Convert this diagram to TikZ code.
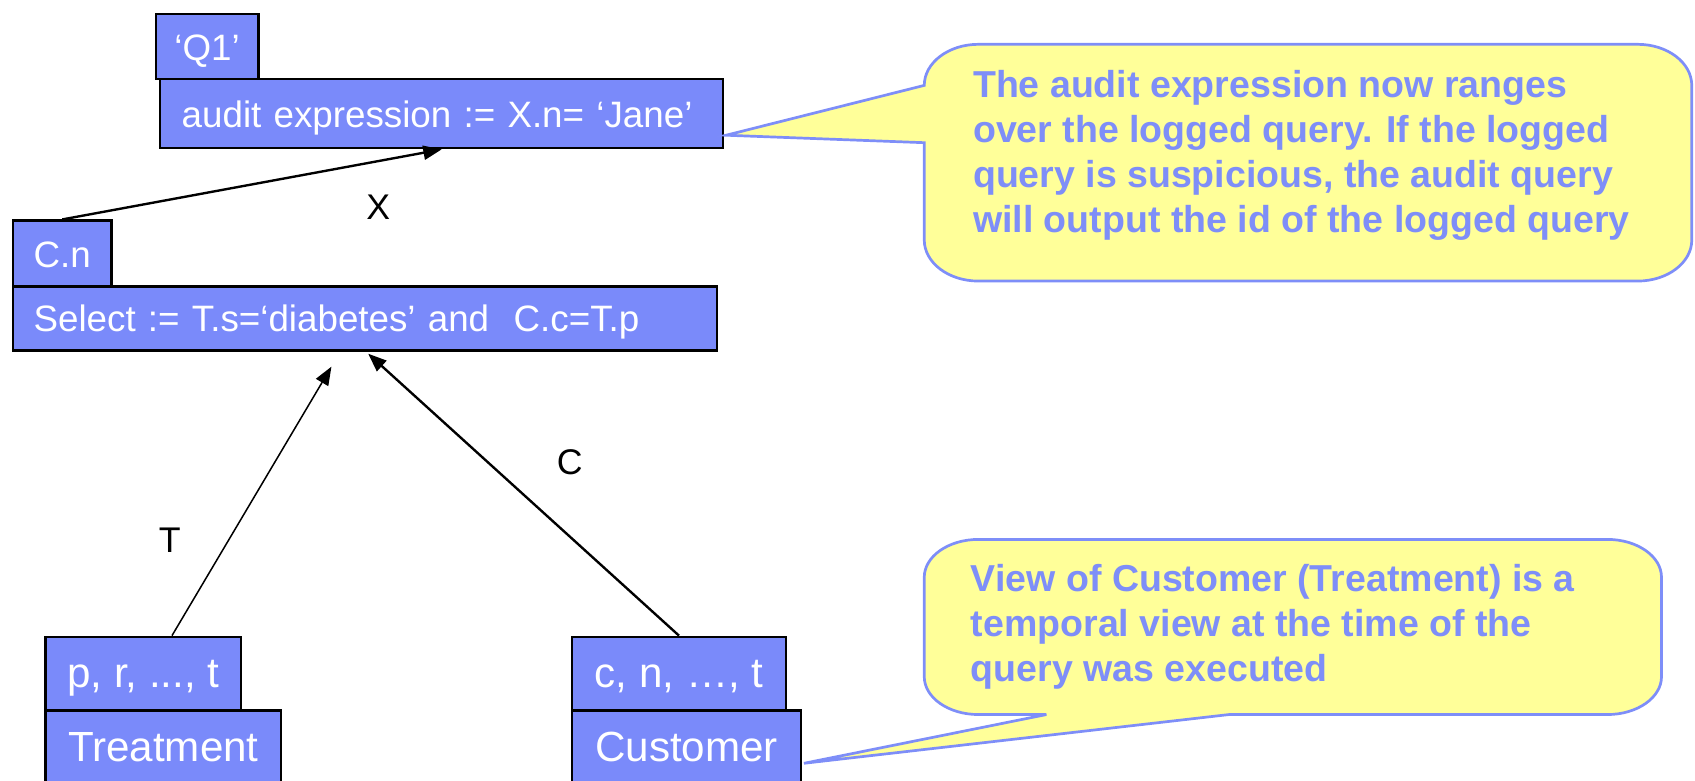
\documentclass[tikz,border=0pt]{standalone}
\usepackage{fontspec}
\setmainfont{Liberation Sans}
\usetikzlibrary{arrows.meta,calc}
\definecolor{boxblue}{RGB}{122,138,250}
\definecolor{noteyellow}{RGB}{255,255,153}
\definecolor{noteblue}{RGB}{126,142,248}

\begin{document}
\begin{tikzpicture}[x=1pt,y=-1pt,
  relbox/.style={draw=black,line width=2.2pt,fill=boxblue,text=white,
    anchor=north west,inner sep=0pt,text height=25pt,text depth=0pt,
    font=\fontsize{34}{40}\selectfont},
  bigbox/.style={relbox,text height=26pt,font=\fontsize{39}{44}\selectfont},
  leftbox/.style={relbox,align=left,inner xsep=#1},
  conn/.style={draw=black,line width=2.2pt,-{Triangle[length=17pt,width=13pt]}},
  thinconn/.style={conn,line width=1.4pt},
  edgelabel/.style={text=black,font=\fontsize{33}{38}\selectfont,inner sep=0pt},
  callout/.style={draw=noteblue,line width=2.5pt,fill=noteyellow,line join=miter},
  notetext/.style={text=noteblue,anchor=north west,inner sep=0pt,align=left,
    font=\fontsize{34.7}{41.6}\selectfont\bfseries}
]
\clip (0,0) rectangle (1568,722);

% query tree: audit expression on top
\node[relbox,minimum width=95pt,minimum height=60pt] (q1) at (143,12) {‘Q1’};
\node[leftbox=20pt,text width=481pt,minimum height=64pt] (audit) at (147,72)
  {audit expression := X.n= ‘Jane’};

% selection node
\node[relbox,minimum width=91pt,minimum height=61pt] (cn) at (11,203) {C.n};
\node[leftbox=19pt,text width=613pt,minimum height=59pt] (select) at (11,264)
  {Select := T.s=‘diabetes’ and\ \ C.c=T.p};

% base relations
\node[bigbox,minimum width=181pt,minimum height=68pt] (tattr) at (41,588) {p, r, ..., t};
\node[bigbox,minimum width=218pt,minimum height=68pt] (treat) at (41,656) {Treatment};
\node[bigbox,minimum width=198pt,minimum height=68pt] (cattr) at (528,588) {c, n, …, t};
\node[bigbox,minimum width=212pt,minimum height=68pt] (cust) at (528,656) {Customer};

% edges
\draw[conn] (cn.north) -- (audit.south);
\draw[thinconn] ([xshift=26.5pt]tattr.north) -- ($(select.south)+(-31,14)$);
\draw[conn] (cattr.north) -- ([xshift=3pt,yshift=-2pt]select.south);

\node[edgelabel] (lx) at (350,192) {X};
\node[edgelabel] (lc) at (527,428) {C};
\node[edgelabel] (lt) at (157,500) {T};

% callouts
\coordinate (tip1) at ([xshift=1.5pt,yshift=-20pt]audit.east);
\coordinate (tip2) at ([xshift=1.5pt,yshift=-15pt]cust.east);

\draw[callout] (905,41) -- (1515,41)
  .. controls (1542.6,41) and (1565,58) .. (1565,79) -- (1565,222)
  .. controls (1565,243) and (1542.6,260) .. (1515,260) -- (905,260)
  .. controls (877.4,260) and (855,243) .. (855,222) -- (855,132)
  -- (tip1) -- (855,79)
  .. controls (855,58) and (877.4,41) .. (905,41) -- cycle;
\node[notetext] (note1) at (900,65)
  {The audit expression now ranges\\over the logged query. If the logged\\query is suspicious, the audit query\\will output the id of the logged query};

\draw[callout] (905,499) -- (1487,499)
  .. controls (1514.6,499) and (1537,514.7) .. (1537,534) -- (1537,626)
  .. controls (1537,645.3) and (1514.6,661) .. (1487,661) -- (1137,661)
  -- (tip2) -- (968,661) -- (905,661)
  .. controls (877.4,661) and (855,645.3) .. (855,626) -- (855,534)
  .. controls (855,514.7) and (877.4,499) .. (905,499) -- cycle;
\node[notetext] (note2) at (898,522)
  {View of Customer (Treatment) is a\\temporal view at the time of the\\query was executed};
\end{tikzpicture}
\end{document}
